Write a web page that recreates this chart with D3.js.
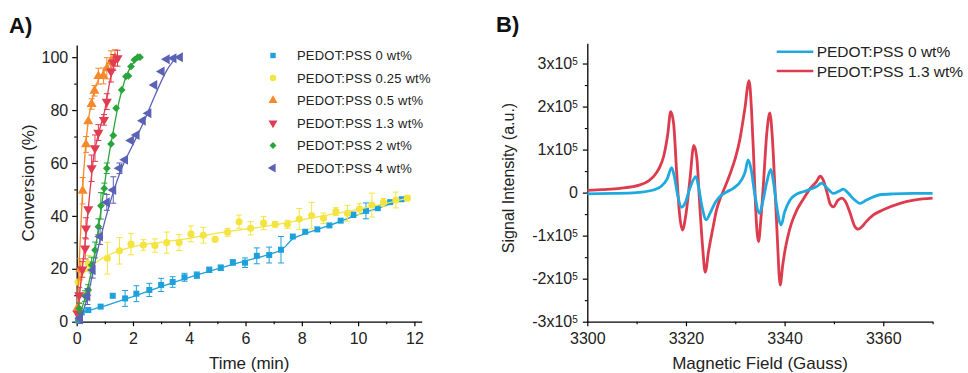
<!DOCTYPE html>
<html><head><meta charset="utf-8">
<script src="https://cdn.jsdelivr.net/npm/d3@7"></script>
<style>
body{margin:0;background:#fff;}
svg{display:block;font-family:"Liberation Sans",Arial,sans-serif;}
</style></head>
<body><svg id="c" width="968" height="373"></svg>
<script>
// ---------- Panel A data ----------
const seriesNames = ["PEDOT:PSS 0 wt%","PEDOT:PSS 0.25 wt%","PEDOT:PSS 0.5 wt%","PEDOT:PSS 1.3 wt%","PEDOT:PSS 2 wt%","PEDOT:PSS 4 wt%"];
const seriesColors = ["#1ea0dc","#f4e441","#f7892b","#e03c52","#2aa53c","#5b62b5"];

const t0 = [0.05,0.18,0.41,0.85,1.28,1.72,2.12,2.58,3.0,3.41,3.83,4.27,4.71,5.12,5.55,5.98,6.40,6.84,7.26,7.68,8.12,8.55,8.98,9.38,9.83,10.28,10.70,11.14,11.55];
const y0 = [0.5,3.5,4.4,5.7,9.8,8.8,10.6,12.0,13.9,15.0,16.8,17.6,19.6,20.4,22.4,22.3,24.9,25.2,27.2,32.2,34.0,34.9,36.4,38.2,40.4,41.9,42.9,45.2,46.3];
const e0 = [0,0,0.8,0,0,3,3,2.5,2.5,2,1.5,1.2,1,1,1,1.8,3,3,5,0,0,0,0,0,1,3,0,0,0];

const t025 = [0.05,0.15,0.41,1.09,1.52,1.93,2.37,2.78,3.20,3.64,4.06,4.50,4.92,5.36,5.77,6.18,6.64,7.05,7.49,7.91,8.35,8.77,9.21,9.62,10.05,10.49,10.90,11.34,11.75];
const y025 = [15,19.5,22,24,26.8,29.3,29,28.8,29.9,29.9,33.2,32.7,31.1,33.8,37.8,35.3,37.3,36.8,36.8,38.8,40.1,39.1,41.6,41,42.6,44.1,45.1,46,46.7];
const e025 = [0,3,3,6,5,4,2,2.5,4,3,3,3,0,1.5,2.5,2.5,2.5,1,1.5,4,5,2,1.5,3,2,4.5,1.5,3,1];

const t05 = [0.02,0.12,0.21,0.33,0.41,0.53,0.63,0.77,0.95,1.07,1.22,1.36];
const y05 = [5,19.8,49.5,67,75.7,82.3,87.3,92.8,92.9,95.8,98.4,99.8];
const e05 = [0,4,5,3,0,2,2,3,3,4,4,3];

const t13 = [0.03,0.09,0.2,0.3,0.33,0.41,0.53,0.65,0.77,0.97,1.07,1.22,1.30,1.45];
const y13 = [3,10,19.8,27.7,35.3,42.5,58,65.6,71.5,76.3,83.2,94.6,98,99.6];
const e13 = [0,3,3,4,4,0,5,5,3,2,3,4,3,3];

const t2 = [0.09,0.3,0.41,0.53,0.65,0.77,0.86,0.98,1.07,1.22,1.30,1.40,1.60,1.75,1.84,1.93,2.05,2.17,2.25];
const y2 = [5,9.7,12,21.4,27.1,35.9,43.8,50.4,58,67.2,70.4,80.7,87.6,92.7,92.9,96.5,99,100,100];
const e2 = [2,2,2,3,3,3,5,2,2,0,0,0,0,0,0,0,0,0,0];

const t4 = [0.12,0.38,0.57,0.83,1.07,1.30,1.52,1.72,1.93,2.13,2.35,2.55,2.76,3.02,3.2,3.44,3.67];
const y4 = [1.3,9.5,19.5,32.2,45.1,49.8,58,61.2,68.5,70.6,76,78.8,89.5,94.6,99.2,99.6,100];
const e4 = [2,3,3,3,3,5,2,0,0,0,0,0,0,0,0,0,0];

// fitted curves (time, conversion)
const fitT0 = [0,0.2,0.6,1,2,3,4,5,6,7,7.3,7.7,8,9,10,11,11.6];
const fitY0 = [0,3.5,4.8,6,9.5,13.3,16.8,20,23,26,27.3,31.5,32.8,36.5,40.5,44,46.5];
const fitT025 = [0,0.3,0.7,1,1.5,2,3,4,5,6,7,8,9,10,11,11.8];
const fitY025 = [15,19,22.5,24.5,26.8,28.3,30,31.5,33.5,35,36.5,38.5,40.5,42.5,44.7,46.8];
const fitT05 = [0,0.08,0.2,0.3,0.4,0.55,0.75,1.0,1.4];
const fitY05 = [0,20,48,64,75,84,91,95,100];
const fitT13 = [0,0.15,0.3,0.45,0.6,0.8,1.0,1.2,1.45];
const fitY13 = [0,15,30,47,62,72,80,92,100];
const fitT2 = [0,0.3,0.5,0.7,0.9,1.1,1.3,1.5,1.7,1.95,2.25];
const fitY2 = [0,9,18,30,45,60,72,83,91,97,100];
const fitT4 = [0.1,0.4,0.7,1.0,1.3,1.6,2.0,2.4,2.8,3.2,3.55];
const fitY4 = [0,10,25,38,49,58,67,76,86,95,100];

const xTicksA = [0,2,4,6,8,10,12];
const yTicksA = [0,20,40,60,80,100];

// ---------- Panel B data ----------
const legendB = ["PEDOT:PSS 0 wt%","PEDOT:PSS 1.3 wt%"];
const colorsB = ["#1faadf","#dd3c4f"];
const fieldRed = [3300,3303,3306.6,3310.7,3312.5,3313.4,3314.5,3315.5,3316.3,3316.9,3317.5,3318.1,3318.7,3319.3,3320,3320.8,3321.6,3322.2,3322.8,3323.4,3323.9,3324.6,3325.5,3326.2,3326.9,3327.8,3328.9,3330,3330.9,3331.9,3332.8,3333.3,3333.7,3334.1,3334.7,3335.2,3335.7,3336.4,3337.0,3337.5,3338.0,3338.5,3339.1,3339.6,3340.1,3340.7,3341.4,3342.5,3343.8,3345.2,3346.5,3347.2,3347.8,3348.6,3349.3,3349.9,3350.8,3351.6,3352.3,3353.2,3354.2,3354.9,3355.6,3356.5,3358,3360,3363.4,3366.5,3370];
const intRed = [0.05,0.07,0.1,0.18,0.28,0.37,0.55,0.85,1.35,1.88,1.6,0.5,-0.5,-0.87,-0.5,0.3,1.1,0.8,-0.3,-1.3,-1.85,-1.35,-0.8,-0.4,-0.15,0.1,0.42,0.8,1.22,1.92,2.6,1.9,0.9,-0.3,-1.14,-0.6,0.2,1.4,1.85,1.3,0.2,-1.0,-2.15,-1.7,-1.33,-1.0,-0.71,-0.4,-0.15,0.1,0.26,0.38,0.3,0.0,-0.28,-0.33,-0.18,-0.13,-0.2,-0.45,-0.78,-0.85,-0.8,-0.68,-0.52,-0.4,-0.25,-0.17,-0.13];
const fieldBlue = [3300,3305,3310,3313.4,3315,3316.2,3317.1,3317.6,3318.3,3319.1,3319.8,3320.8,3322.0,3322.6,3323.3,3324.1,3325.0,3326.0,3326.9,3328.3,3329.6,3331.3,3332.0,3332.6,3333.2,3333.9,3334.9,3335.6,3336.4,3337.2,3337.8,3338.5,3339.3,3340.0,3341.1,3342.5,3343.8,3345.2,3346.5,3347.5,3348.5,3349.9,3351.0,3351.9,3352.8,3354,3355.3,3356.5,3358,3359.3,3362,3366,3370];
const intBlue = [-0.03,-0.02,0.0,0.06,0.15,0.32,0.58,0.4,-0.05,-0.34,-0.25,0.1,0.37,0.1,-0.35,-0.63,-0.45,-0.22,-0.09,0.02,0.1,0.3,0.48,0.76,0.55,0.0,-0.48,-0.2,0.25,0.54,0.2,-0.4,-0.75,-0.45,-0.17,-0.03,0.02,0.08,0.14,0.22,0.12,-0.02,0.03,0.08,0.0,-0.15,-0.25,-0.18,-0.1,-0.05,-0.03,-0.02,-0.02];
const xTicksB = [3300,3320,3340,3360];
const yTicksB = [-3,-2,-1,0,1,2,3]; // x10^5

// ---------- Drawing ----------
const svg = d3.select("#c");
const ink = "#222";

// Panel A
const xA = d3.scaleLinear().domain([0,12.26]).range([76.7,421.7]);
const yA = d3.scaleLinear().domain([0,104.6]).range([321.7,45]);
const gA = svg.append("g");

function styleAxis(g){
  g.select(".domain").attr("stroke","#000").attr("stroke-width",1.3);
  g.selectAll(".tick line").attr("stroke","#000").attr("stroke-width",1.2);
  g.selectAll("text").attr("fill",ink).style("font-size","16px").style("font-family","'Liberation Sans',Arial,sans-serif");
}

gA.append("g").attr("transform","translate(0,321.7)")
  .call(d3.axisBottom(xA).tickValues([1,3,5,7,9,11]).tickSize(2.5).tickSizeOuter(0).tickFormat(""))
  .call(g=>{g.select(".domain").remove();g.selectAll("line").attr("stroke","#000").attr("stroke-width",1.1);});
gA.append("g").attr("transform","translate(76.7,0)")
  .call(d3.axisLeft(yA).tickValues([10,30,50,70,90]).tickSize(2.5).tickSizeOuter(0).tickFormat(""))
  .call(g=>{g.select(".domain").remove();g.selectAll("line").attr("stroke","#000").attr("stroke-width",1.1);});
gA.append("g").attr("transform","translate(0,321.7)")
  .call(d3.axisBottom(xA).tickValues(xTicksA).tickSize(4.5).tickSizeOuter(0).tickPadding(6).tickFormat(d3.format("d")))
  .call(styleAxis);
gA.append("g").attr("transform","translate(76.7,0)")
  .call(d3.axisLeft(yA).tickValues(yTicksA).tickSize(4.5).tickSizeOuter(0).tickPadding(4).tickFormat(d3.format("d")))
  .call(styleAxis);

gA.append("text").attr("x",249.2).attr("y",369).attr("text-anchor","middle")
  .style("font-size","17px").attr("fill",ink).text("Time (min)");
gA.append("text").attr("transform","translate(34,183) rotate(-90)").attr("text-anchor","middle")
  .style("font-size","17px").attr("fill",ink).text("Conversion (%)");
svg.append("text").attr("x",9).attr("y",33).style("font-size","22px").style("font-weight","bold").attr("fill","#111").text("A)");
svg.append("text").attr("x",496).attr("y",32).style("font-size","22px").style("font-weight","bold").attr("fill","#111").text("B)");

const allT = [t0,t025,t05,t13,t2,t4];
const allY = [y0,y025,y05,y13,y2,y4];
const allE = [e0,e025,e05,e13,e2,e4];
const fitsT = [fitT0,fitT025,fitT05,fitT13,fitT2,fitT4];
const fitsY = [fitY0,fitY025,fitY05,fitY13,fitY2,fitY4];
const symTypes = [d3.symbolSquare,d3.symbolCircle,d3.symbolTriangle,d3.symbolTriangle,d3.symbolSquare,d3.symbolTriangle];
const symRot = [0,0,0,180,45,-90];
const symSize = [36,40,44,44,30,44];

const lineA = d3.line().x(d=>xA(d[0])).y(d=>yA(d[1])).curve(d3.curveMonotoneX);
const plotA = gA.append("g");
allT.forEach((ts,i)=>{
  const c = seriesColors[i];
  const g = plotA.append("g");
  const fit = fitsT[i].map((t,j)=>[t,fitsY[i][j]]);
  g.append("path").attr("d",lineA(fit)).attr("fill","none").attr("stroke",c).attr("stroke-width",1.3);
  const pts = ts.map((t,j)=>({t,y:allY[i][j],e:allE[i][j]}));
  const eb = g.append("g").attr("stroke",c).attr("stroke-width",1);
  pts.filter(p=>p.e>0).forEach(p=>{
    const x=xA(p.t), y1=yA(p.y-p.e), y2=yA(p.y+p.e);
    eb.append("line").attr("x1",x).attr("x2",x).attr("y1",y1).attr("y2",y2);
    eb.append("line").attr("x1",x-3).attr("x2",x+3).attr("y1",y1).attr("y2",y1);
    eb.append("line").attr("x1",x-3).attr("x2",x+3).attr("y1",y2).attr("y2",y2);
  });
  g.selectAll("path.m").data(pts).join("path").attr("class","m")
    .attr("d",d3.symbol().type(symTypes[i]).size(symSize[i]))
    .attr("transform",p=>`translate(${xA(p.t)},${yA(p.y)}) rotate(${symRot[i]})`)
    .attr("fill",c);
});

// Legend A
const legA = gA.append("g");
seriesNames.forEach((n,i)=>{
  const y = 55.5 + i*22.5;
  legA.append("path").attr("d",d3.symbol().type(symTypes[i]).size(symSize[i]*0.8))
    .attr("transform",`translate(273,${y}) rotate(${symRot[i]})`).attr("fill",seriesColors[i]);
  legA.append("text").attr("x",297).attr("y",y).attr("dy","0.35em")
    .style("font-size","13px").style("letter-spacing","0.2px").attr("fill",ink).text(n);
});

// Panel B
const xB = d3.scaleLinear().domain([3300,3370]).range([587.3,932.6]);
const yB = d3.scaleLinear().domain([-3,3.47]).range([321.7,43.3]);
const gB = svg.append("g");
gB.append("g").attr("transform","translate(0,321.7)")
  .call(d3.axisBottom(xB).tickValues([3310,3330,3350,3370]).tickSize(2.5).tickSizeOuter(0).tickFormat(""))
  .call(g=>{g.select(".domain").remove();g.selectAll("line").attr("stroke","#000").attr("stroke-width",1.1);});
gB.append("g").attr("transform","translate(587.3,0)")
  .call(d3.axisLeft(yB).tickValues([-2.5,-1.5,-0.5,0.5,1.5,2.5]).tickSize(2.5).tickSizeOuter(0).tickFormat(""))
  .call(g=>{g.select(".domain").remove();g.selectAll("line").attr("stroke","#000").attr("stroke-width",1.1);});
gB.append("g").attr("transform","translate(0,321.7)")
  .call(d3.axisBottom(xB).tickValues(xTicksB).tickSize(4.5).tickSizeOuter(0).tickPadding(6).tickFormat(d3.format("d")))
  .call(styleAxis);
const yAxB = gB.append("g").attr("transform","translate(587.3,0)")
  .call(d3.axisLeft(yB).tickValues(yTicksB).tickSize(4.5).tickSizeOuter(0).tickPadding(5).tickFormat(""))
  .call(styleAxis);
yAxB.selectAll(".tick text").each(function(d){
  const t = d3.select(this);
  if(d===0){ t.text("0"); return; }
  t.text(null);
  t.append("tspan").text((d<0?"-":"")+Math.abs(d)+"x10");
  t.append("tspan").attr("dy","-0.45em").style("font-size","10px").text("5");
});
gB.append("text").attr("x",760).attr("y",369).attr("text-anchor","middle")
  .style("font-size","17px").attr("fill",ink).text("Magnetic Field (Gauss)");
gB.append("text").attr("transform","translate(514,178) rotate(-90)").attr("text-anchor","middle")
  .style("font-size","16px").attr("fill",ink).text("Signal Intensity (a.u.)");

const lineB = d3.line().x(d=>xB(d[0])).y(d=>yB(d[1])).curve(d3.curveMonotoneX);
const redPts = fieldRed.map((f,j)=>[f,intRed[j]]);
const bluePts = fieldBlue.map((f,j)=>[f,intBlue[j]]);
gB.append("path").attr("d",lineB(redPts)).attr("fill","none").attr("stroke",colorsB[1]).attr("stroke-width",2.8).attr("stroke-linejoin","round");
gB.append("path").attr("d",lineB(bluePts)).attr("fill","none").attr("stroke",colorsB[0]).attr("stroke-width",2.8).attr("stroke-linejoin","round");

// Legend B
legendB.forEach((n,i)=>{
  const y = 51.7 + i*19.3;
  gB.append("line").attr("x1",776.7).attr("x2",813.3).attr("y1",y).attr("y2",y)
    .attr("stroke",colorsB[i]).attr("stroke-width",2.6);
  gB.append("text").attr("x",816.7).attr("y",y).attr("dy","0.36em")
    .style("font-size","15.5px").attr("fill",ink).text(n);
});
</script></body></html>
